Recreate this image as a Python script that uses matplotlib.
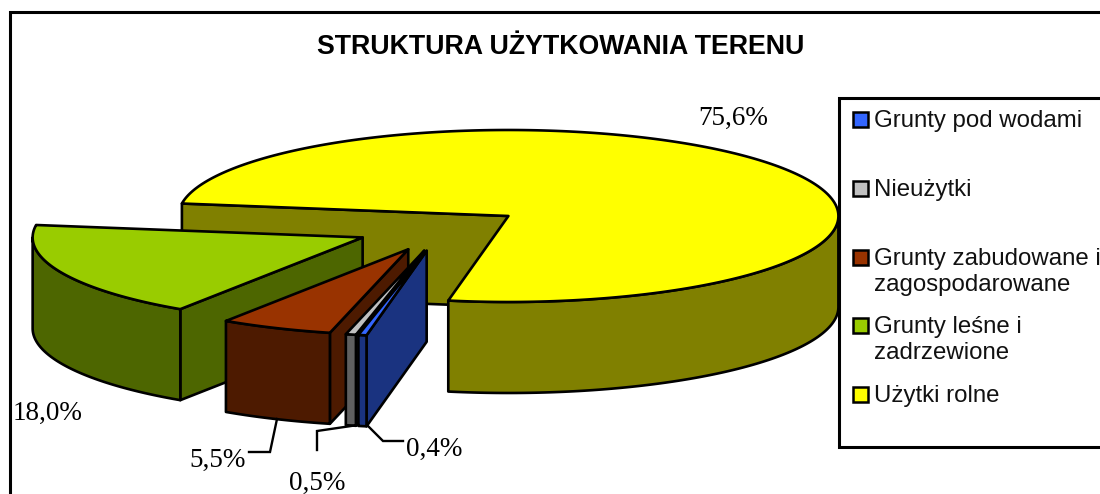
import numpy as np
import matplotlib
matplotlib.use("Agg")
import matplotlib.pyplot as plt
from matplotlib.patches import Polygon, Rectangle

categories = ["Grunty pod wodami", "Nieużytki", "Grunty zabudowane i\nzagospodarowane",
              "Grunty leśne i\nzadrzewione", "Użytki rolne"]
values = [0.4, 0.5, 5.5, 18.0, 75.6]
value_labels = ["0,4%", "0,5%", "5,5%", "18,0%", "75,6%"]
top_colors = ["#3366FF", "#C0C0C0", "#993300", "#99CC00", "#FFFF00"]
wall_colors = ["#1A3380", "#606060", "#4D1A00", "#4D6600", "#808000"]
explode = [0.27, 0.27, 0.27, 0.27, 0.24]

RX, RY, DEPTH = 330, 86, 91
C0 = np.array([444.0, 228.0])
START = -10.5

fig = plt.figure(figsize=(11, 4.94), dpi=100)
ax = fig.add_axes([0, 0, 1, 1])
ax.set_xlim(0, 1100)
ax.set_ylim(494, 0)
ax.axis("off")

ax.add_patch(Rectangle((10, 12), 1200, 600, fc="white", ec="black", lw=2.2, zorder=0))


def pt(c, a):
    a = np.radians(a)
    return np.column_stack([c[0] + RX * np.sin(a), c[1] + RY * np.cos(a)])


z = 1
LW = 1.9


def poly(xy, col):
    global z
    ax.add_patch(Polygon(xy, closed=True, fc=col, ec="black", lw=LW, joinstyle="round", zorder=z))
    z += 1


angles = START - np.concatenate([[0], np.cumsum(values)]) * 3.6
drop = np.array([0, DEPTH])
for i in [4, 3, 2, 1, 0]:
    near, far = angles[i], angles[i + 1]
    if i == 4:
        near, far = far + 360, near + 360   # sweep from the front edge over the right side
    m = np.radians((near + far) / 2)
    c = C0 + explode[i] * np.array([RX * np.sin(m), RY * np.cos(m)])
    arc = pt(c, np.linspace(near, far, 240))
    if i == 4:
        e = pt(c, [far])[0]
        poly([e, c, c + drop, e + drop], wall_colors[i])
        w = pt(c, np.linspace(near, 90, 120))
    else:
        e = pt(c, [near])[0]
        poly([c, e, e + drop, c + drop], wall_colors[i])
        w = pt(c, np.linspace(near, max(far, -90), 80))
    poly(np.vstack([w, (w + drop)[::-1]]), wall_colors[i])
    poly(np.vstack([[c], arc]), top_colors[i])

# Title
ax.text(561, 47, "STRUKTURA UŻYTKOWANIA TERENU", family="Liberation Sans", weight="bold",
        fontsize=19.3, ha="center", va="center", zorder=50)

# Data labels
label_pos = [(434, 449), (317, 483), (218, 460), (48, 413), (733, 118)]
for t, (x, y) in zip(value_labels, label_pos):
    ax.text(x, y, t, family="Liberation Serif", fontsize=19.5, ha="center", va="center", zorder=50)

# Leader lines
leaders = [[(367, 425), (383, 441), (403, 441)],
           [(358, 425), (317, 431), (317, 450)],
           [(277, 419), (270, 452), (249, 452)]]
for l in leaders:
    xs, ys = zip(*l)
    ax.plot(xs, ys, color="black", lw=1.7, zorder=49, solid_joinstyle="miter")

# Legend
ax.add_patch(Rectangle((839, 98), 400, 349, fc="white", ec="black", lw=2.2, zorder=60))
legend_y = [119, 188, 257, 325, 394]
for cat, col, y in zip(categories, top_colors, legend_y):
    ax.add_patch(Rectangle((853, y - 7.5), 15, 15, fc=col, ec="black", lw=1.8, zorder=61))
    ax.text(874, y - 9, cat, family="Liberation Sans", fontsize=17.3, ha="left", va="top",
            linespacing=1.22, zorder=61, color="#111111")

fig.savefig("out.png", dpi=100)
